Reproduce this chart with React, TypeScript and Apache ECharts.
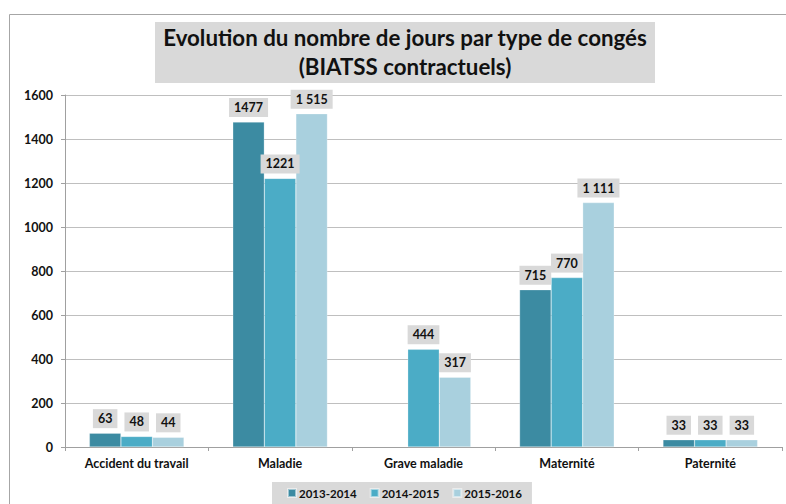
import React, { useEffect, useRef } from "react";
import * as echarts from "echarts";

const categories = ["Accident du travail", "Maladie", "Grave maladie", "Maternité", "Paternité"];
const seriesNames = ["2013-2014", "2014-2015", "2015-2016"];
const values2013 = [63, 1477, null, 715, 33];
const values2014 = [48, 1221, 444, 770, 33];
const values2015 = [44, 1515, 317, 1111, 33];
const yTicks = { min: 0, max: 1600, interval: 200 };
const titleText = "Evolution du nombre de jours par type de congés\n(BIATSS contractuels)";

const colors = ["#3c8ba2", "#4bacc6", "#a9d0de"];
const FONT = "Lato, 'Liberation Sans', sans-serif";
const SMALL = 12.5;

export default function App() {
  const ref = useRef<HTMLDivElement>(null);
  useEffect(() => {
    if (!ref.current) return;
    const chart = echarts.init(ref.current, null, { renderer: "svg" });
    const allValues = [values2013, values2014, values2015];
    const fmt = (si: number) => (p: any) => {
      const v = p.value;
      if (v == null) return "";
      if (si === 2 && v >= 1000) {
        const s = String(v);
        return s.slice(0, s.length - 3) + " " + s.slice(s.length - 3);
      }
      return String(v);
    };
    chart.setOption({
      animation: false,
      color: colors,
      textStyle: { fontFamily: FONT },
      graphic: [
        {
          type: "rect",
          shape: { x: 9.5, y: 14.5, width: 900, height: 600 },
          style: { fill: "none", stroke: "#a6a6a6", lineWidth: 1 },
          silent: true,
          z: -10,
        },
        {
          type: "rect",
          shape: { x: 155, y: 22, width: 500, height: 61 },
          style: { fill: "#d9d9d9" },
          silent: true,
          z: 1,
        },
        {
          type: "text",
          x: 405,
          y: 23,
          z: 2,
          silent: true,
          style: {
            text: titleText,
            fontFamily: FONT,
            fontSize: 22.3,
            fontWeight: "bold",
            fill: "#111111",
            lineHeight: 29,
            align: "center",
            verticalAlign: "top",
          },
        },
      ],
      legend: {
        data: seriesNames,
        left: 272,
        top: 482,
        backgroundColor: "#d9d9d9",
        padding: [5, 10, 8, 15],
        itemWidth: 8,
        itemHeight: 8,
        itemGap: 13,
        icon: "rect",
        textStyle: { fontFamily: FONT, fontSize: 11.5, fontWeight: "bold", color: "#111111", padding: [0, 0, 0, -2] },
      },
      grid: { left: 65, right: 4, top: 95, bottom: 57, containLabel: false },
      xAxis: {
        type: "category",
        data: categories,
        axisLine: { lineStyle: { color: "#a0a0a0" } },
        axisTick: { show: true, length: 4, lineStyle: { color: "#a0a0a0" } },
        axisLabel: { fontFamily: FONT, fontSize: SMALL, fontWeight: "bold", color: "#111111", margin: 10 },
      },
      yAxis: {
        type: "value",
        min: yTicks.min,
        max: yTicks.max,
        interval: yTicks.interval,
        axisLine: { show: true, lineStyle: { color: "#a0a0a0" } },
        axisTick: { show: true, length: 4, lineStyle: { color: "#a0a0a0" } },
        axisLabel: {
          fontFamily: FONT,
          fontSize: SMALL,
          fontWeight: "bold",
          color: "#111111",
          margin: 12,
          formatter: (v: number) => String(v),
        },
        splitLine: { lineStyle: { color: "#bfbfbf" } },
      },
      series: seriesNames.map((name, i) => ({
        name,
        type: "bar",
        data: allValues[i],
        barGap: "0%",
        barCategoryGap: "34%",
        itemStyle: { color: colors[i], borderColor: "rgba(255,255,255,0.5)", borderWidth: 0.5 },
        label: {
          show: true,
          position: "top",
          distance: 5,
          formatter: fmt(i),
          backgroundColor: "#d9d9d9",
          padding: [3, 5, 3, 5],
          fontFamily: FONT,
          fontSize: SMALL,
          fontWeight: "bold",
          color: "#111111",
        },
      })),
    });
    return () => chart.dispose();
  }, []);
  return (
    <div style={{ position: "fixed", left: 0, top: 0, width: 786, height: 504, background: "#fff", overflow: "hidden" }}>
      <div ref={ref} style={{ width: 786, height: 504 }} />
    </div>
  );
}
